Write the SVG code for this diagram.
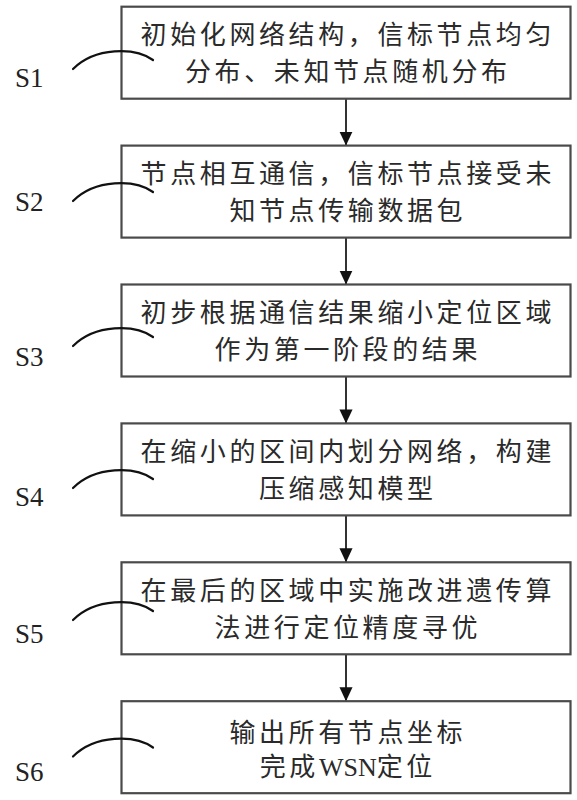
<svg xmlns="http://www.w3.org/2000/svg" width="577" height="800" viewBox="0 0 577 800">
<style>
.box{fill:#fff;stroke:#4a4a4a;stroke-width:2.2}
.t{font-family:"Noto Sans CJK SC","Noto Sans CJK JP",sans-serif;font-size:26px;letter-spacing:3.6px;fill:#2a2a2a;text-anchor:middle}
.lab{font-family:"Liberation Serif",serif;font-size:27px;fill:#222}
.cv{fill:none;stroke:#111;stroke-width:2.2;stroke-linecap:round}
.ar{stroke:#333;stroke-width:2}
.lat{font-family:"Liberation Serif",serif;letter-spacing:0}
</style>
<defs>
<marker id="ah" markerUnits="userSpaceOnUse" markerWidth="14" markerHeight="16" refX="15" refY="7" orient="auto" viewBox="0 0 15 14">
<path d="M0,0 L15,7 L0,14 Z" fill="#111"/>
</marker>
</defs>
<rect width="577" height="800" fill="#fff"/>
<g id="connectors">
<line class="ar" x1="346" y1="98.7" x2="346" y2="145.6" marker-end="url(#ah)"/>
<line class="ar" x1="346" y1="237.6" x2="346" y2="284.5" marker-end="url(#ah)"/>
<line class="ar" x1="346" y1="376.5" x2="346" y2="423.4" marker-end="url(#ah)"/>
<line class="ar" x1="346" y1="515.4" x2="346" y2="562.3" marker-end="url(#ah)"/>
<line class="ar" x1="346" y1="654.3" x2="346" y2="701.2" marker-end="url(#ah)"/>
</g>
<g id="S1">
<rect class="box" x="121.5" y="6.7" width="449" height="92"/>
<text class="t" x="347.8" y="44">初始化网络结构，信标节点均匀</text>
<text class="t" x="347.8" y="80.5">分布、未知节点随机分布</text>
<path class="cv" d="M73,69 C95,47 135,47 153,60"/>
<text class="lab" x="15" y="87">S1</text>
</g>
<g id="S2">
<rect class="box" x="121.5" y="145.6" width="449" height="92"/>
<text class="t" x="347.8" y="183">节点相互通信，信标节点接受未</text>
<text class="t" x="347.8" y="219.5">知节点传输数据包</text>
<path class="cv" d="M73,201 C95,179 135,179 153,192"/>
<text class="lab" x="15" y="210.5">S2</text>
</g>
<g id="S3">
<rect class="box" x="121.5" y="284.5" width="449" height="92"/>
<text class="t" x="347.8" y="322">初步根据通信结果缩小定位区域</text>
<text class="t" x="347.8" y="358.5">作为第一阶段的结果</text>
<path class="cv" d="M73,346 C95,324 135,324 153,337"/>
<text class="lab" x="15" y="366">S3</text>
</g>
<g id="S4">
<rect class="box" x="121.5" y="423.4" width="449" height="92"/>
<text class="t" x="347.8" y="461">在缩小的区间内划分网络，构建</text>
<text class="t" x="347.8" y="497.5">压缩感知模型</text>
<path class="cv" d="M73,488 C95,466 135,466 153,479"/>
<text class="lab" x="15" y="506">S4</text>
</g>
<g id="S5">
<rect class="box" x="121.5" y="562.3" width="449" height="92"/>
<text class="t" x="347.8" y="600">在最后的区域中实施改进遗传算</text>
<text class="t" x="347.8" y="636.5">法进行定位精度寻优</text>
<path class="cv" d="M73,620 C95,598 135,598 153,611"/>
<text class="lab" x="15" y="643">S5</text>
</g>
<g id="S6">
<rect class="box" x="121.5" y="701.2" width="449" height="92"/>
<text class="t" x="347.8" y="742">输出所有节点坐标</text>
<text class="t" x="347.8" y="776">完成<tspan class="lat">WSN</tspan>定位</text>
<path class="cv" d="M73,756.5 C95,734.5 135,734.5 153,747.5"/>
<text class="lab" x="15" y="780.7">S6</text>
</g>
</svg>
